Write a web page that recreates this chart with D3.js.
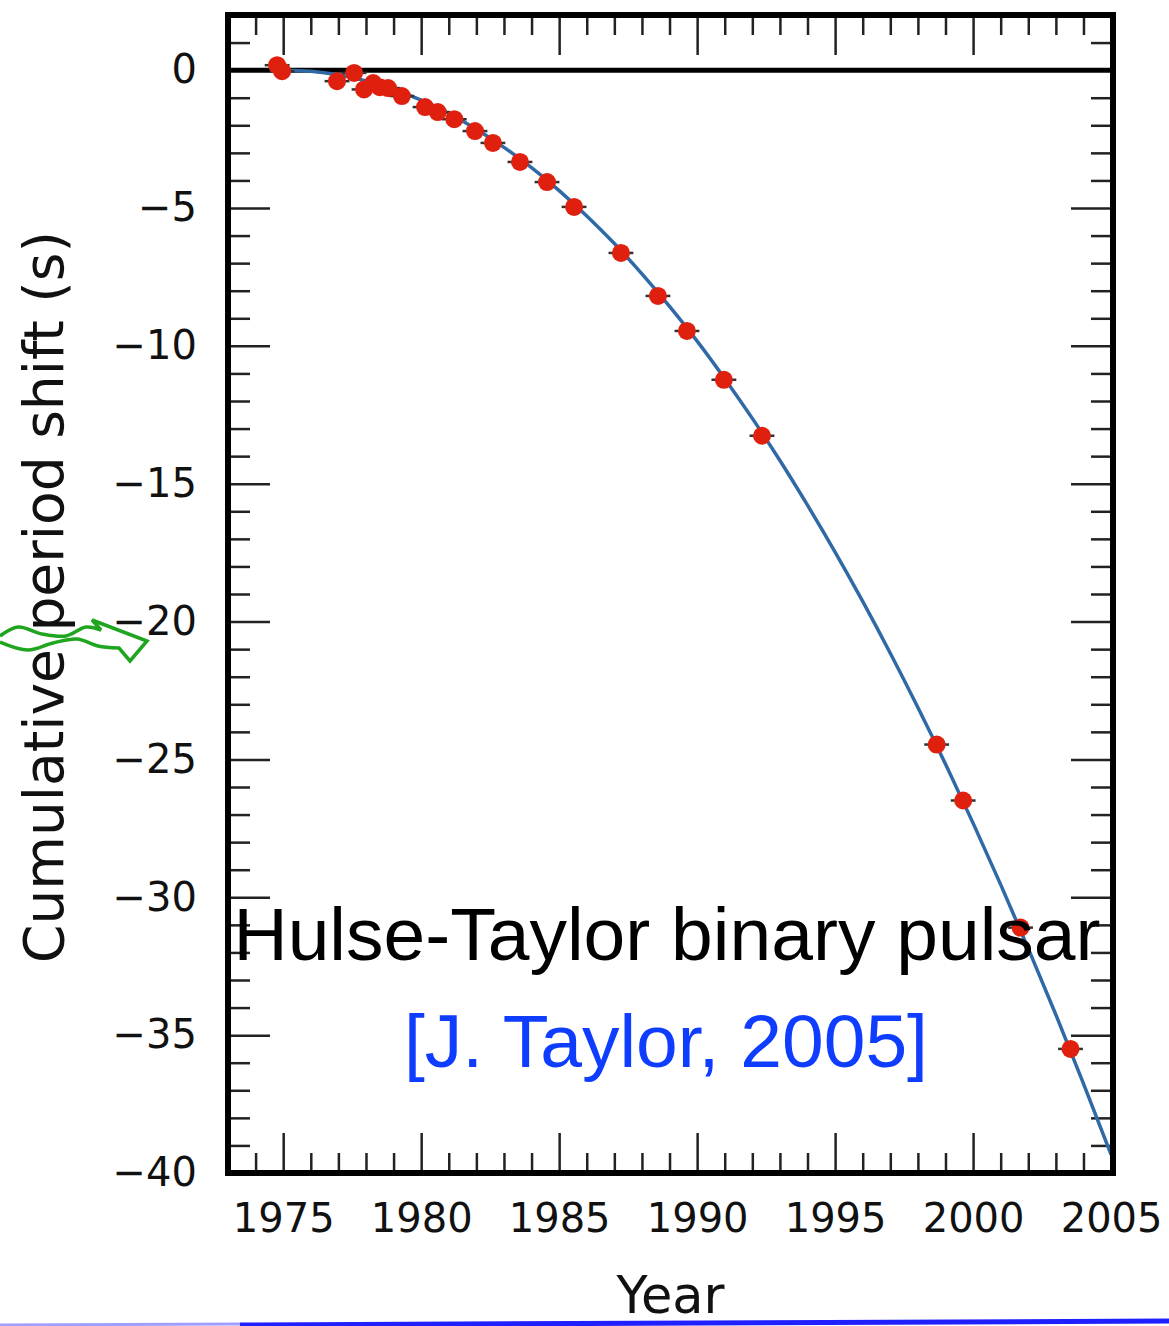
<!DOCTYPE html>
<html>
<head>
<meta charset="utf-8">
<script src="https://cdn.jsdelivr.net/npm/d3@7"></script>
<style>
  body { margin: 0; background: #fff; }
  svg { display: block; }
</style>
</head>
<body>
<svg id="chart"></svg>
<script>
// observed cumulative periastron shift (red points)
var obsYear = [1974.78, 1974.96, 1976.95, 1977.57, 1977.93, 1978.26, 1978.5, 1978.8, 1979.3,
  1980.14, 1980.6, 1981.2, 1981.95, 1982.6, 1983.58, 1984.56, 1985.54, 1987.24, 1988.58,
  1989.63, 1990.97, 1992.35, 1998.68, 1999.64, 2001.72, 2003.53];
var obsShift = [0.18, -0.04, -0.4, -0.1, -0.7, -0.47, -0.62, -0.65, -0.94,
  -1.34, -1.52, -1.78, -2.21, -2.64, -3.33, -4.06, -4.96, -6.63, -8.19,
  -9.46, -11.23, -13.26, -24.46, -26.49, -31.1, -35.5];
var obsErr = 0.45; // half width of the little error bars, years

// GR prediction (blue curve)
var curveYear = [1975, 1976, 1977, 1978, 1979, 1980, 1981, 1982, 1983, 1984, 1985, 1986,
  1987, 1988, 1989, 1990, 1991, 1992, 1993, 1994, 1995, 1996, 1997, 1998, 1999, 2000,
  2001, 2002, 2003, 2004, 2005];
var curveShift = [0, -0.04, -0.17, -0.39, -0.7, -1.09, -1.57, -2.14, -2.8, -3.54, -4.37, -5.29,
  -6.29, -7.39, -8.57, -9.83, -11.19, -12.63, -14.16, -15.78, -17.48, -19.27, -21.15, -23.12,
  -25.17, -27.31, -29.54, -31.86, -34.26, -36.76, -39.33];

var xMajor = [1975, 1980, 1985, 1990, 1995, 2000, 2005];
var xMinor = d3.range(1974, 2005).filter(d => d % 5 !== 0);
var yMajor = [0, -5, -10, -15, -20, -25, -30, -35, -40];
var yMinor = d3.range(-39, 2).filter(d => d % 5 !== 0);

var W = 1169, H = 1326;
var plot = {left: 228, right: 1113, top: 15, bottom: 1173};

var svg = d3.select("#chart").attr("width", W).attr("height", H);

// hand drawn blue stroke at the bottom
svg.append("path").attr("d", "M0,1325 L240,1324").attr("stroke", "#2a2aff")
  .attr("stroke-width", 3).attr("opacity", 0.45).attr("fill", "none");
svg.append("path").attr("d", "M240,1325 L700,1323 L1169,1321").attr("stroke", "#2020ff")
  .attr("stroke-width", 5).attr("fill", "none");

var x = d3.scaleLinear().domain([1973, 2005.07]).range([plot.left, plot.right]);
var y = d3.scaleLinear().domain([2, -40]).range([plot.top, plot.bottom]);

var tickFont = "DejaVu Sans, sans-serif";

function styleAxis(g) {
  g.select(".domain").remove();
  g.selectAll(".tick line").attr("stroke", "#222").attr("stroke-width", 2.5);
  g.selectAll("text").attr("font-family", tickFont).attr("font-size", 40).attr("fill", "#111");
}

// bottom
svg.append("g").attr("transform", `translate(0,${plot.bottom})`)
  .call(d3.axisBottom(x).tickValues(xMajor).tickFormat(d3.format("d")).tickSize(-40).tickPadding(31))
  .call(styleAxis);
svg.append("g").attr("transform", `translate(0,${plot.bottom})`)
  .call(d3.axisBottom(x).tickValues(xMinor).tickFormat("").tickSize(-20))
  .call(styleAxis);
// top
svg.append("g").attr("transform", `translate(0,${plot.top})`)
  .call(d3.axisTop(x).tickValues(xMajor).tickFormat("").tickSize(-40))
  .call(styleAxis);
svg.append("g").attr("transform", `translate(0,${plot.top})`)
  .call(d3.axisTop(x).tickValues(xMinor).tickFormat("").tickSize(-20))
  .call(styleAxis);
// left
svg.append("g").attr("transform", `translate(${plot.left},0)`)
  .call(d3.axisLeft(y).tickValues(yMajor).tickFormat(d3.format("d")).tickSize(-42).tickPadding(31))
  .call(styleAxis);
svg.append("g").attr("transform", `translate(${plot.left},0)`)
  .call(d3.axisLeft(y).tickValues(yMinor).tickFormat("").tickSize(-22))
  .call(styleAxis);
// right
svg.append("g").attr("transform", `translate(${plot.right},0)`)
  .call(d3.axisRight(y).tickValues(yMajor).tickFormat("").tickSize(-42))
  .call(styleAxis);
svg.append("g").attr("transform", `translate(${plot.right},0)`)
  .call(d3.axisRight(y).tickValues(yMinor).tickFormat("").tickSize(-22))
  .call(styleAxis);

// zero line
svg.append("line")
  .attr("x1", plot.left).attr("x2", plot.right)
  .attr("y1", y(0)).attr("y2", y(0))
  .attr("stroke", "#000").attr("stroke-width", 5);

svg.append("clipPath").attr("id", "clip")
  .append("rect").attr("x", plot.left).attr("y", plot.top)
  .attr("width", plot.right - plot.left).attr("height", plot.bottom - plot.top);

var line = d3.line()
  .x((d, i) => x(curveYear[i]))
  .y(d => y(d))
  .curve(d3.curveMonotoneX);

svg.append("path")
  .datum(curveShift)
  .attr("clip-path", "url(#clip)")
  .attr("fill", "none")
  .attr("stroke", "#2f6aa6")
  .attr("stroke-width", 3.5)
  .attr("d", line);

var pts = obsYear.map((d, i) => ({year: d, shift: obsShift[i]}));

svg.append("g").selectAll("line")
  .data(pts)
  .join("line")
    .attr("x1", d => x(d.year - obsErr)).attr("x2", d => x(d.year + obsErr))
    .attr("y1", d => y(d.shift)).attr("y2", d => y(d.shift))
    .attr("stroke", "#333").attr("stroke-width", 2.5);

svg.append("g").selectAll("circle")
  .data(pts)
  .join("circle")
    .attr("cx", d => x(d.year))
    .attr("cy", d => y(d.shift))
    .attr("r", 9)
    .attr("fill", "#e0200f");

// frame
svg.append("rect")
  .attr("x", plot.left).attr("y", plot.top)
  .attr("width", plot.right - plot.left).attr("height", plot.bottom - plot.top)
  .attr("fill", "none").attr("stroke", "#000").attr("stroke-width", 6);

// axis titles
svg.append("text")
  .attr("transform", "translate(63,597) rotate(-90)")
  .attr("text-anchor", "middle")
  .attr("font-family", tickFont).attr("font-size", 55).attr("fill", "#111")
  .text("Cumulative period shift (s)");

svg.append("text")
  .attr("x", (plot.left + plot.right) / 2).attr("y", 1313)
  .attr("text-anchor", "middle")
  .attr("font-family", tickFont).attr("font-size", 51).attr("fill", "#111")
  .text("Year");

// annotation
svg.append("text")
  .attr("x", 667).attr("y", 960)
  .attr("text-anchor", "middle")
  .attr("font-family", "Liberation Sans, Arial, sans-serif").attr("font-size", 75)
  .attr("fill", "#000")
  .text("Hulse-Taylor binary pulsar");

svg.append("text")
  .attr("x", 666).attr("y", 1067)
  .attr("text-anchor", "middle")
  .attr("font-family", "Liberation Sans, Arial, sans-serif").attr("font-size", 75)
  .attr("fill", "#0f3dff")
  .text("[J. Taylor, 2005]");

// green wavy arrow drawn over the y label
var wave = d3.line().curve(d3.curveCatmullRom);
var upper = [[0, 636], [18, 627], [42, 634], [66, 636], [86, 627], [101, 630]];
var lower = [[119, 648], [98, 646], [77, 639], [53, 643], [28, 650], [0, 642]];
var head = [[101, 630], [92, 620], [147, 641], [130, 661], [119, 648]];
svg.append("path")
  .attr("d", wave(upper) + d3.line()(head).replace(/^M/, "L") + wave(lower).replace(/^M/, "L"))
  .attr("fill", "none").attr("stroke", "#1fa51f").attr("stroke-width", 3.5)
  .attr("stroke-linejoin", "miter");
</script>
</body>
</html>
